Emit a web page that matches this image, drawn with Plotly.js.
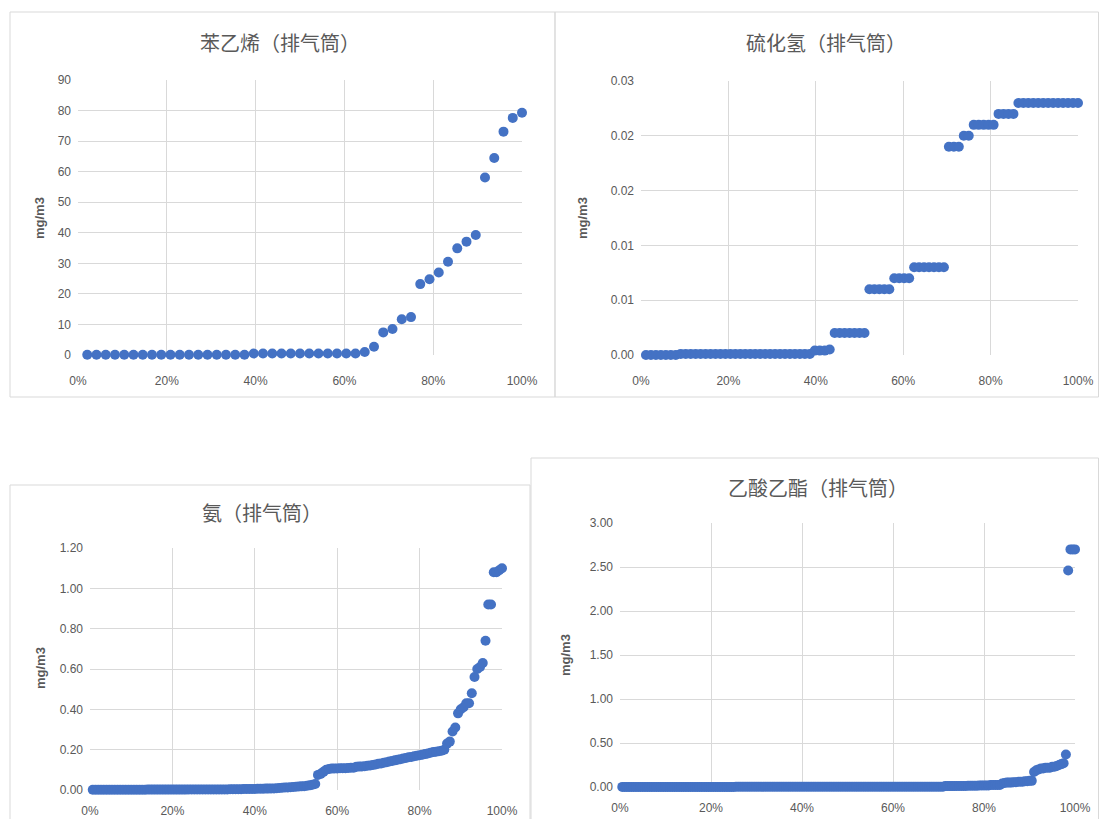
<!DOCTYPE html>
<html>
<head>
<meta charset="utf-8">
<script src="https://cdn.plot.ly/plotly-3.0.1.min.js"></script>
<style>html,body{margin:0;padding:0;background:#fff;}#chart{width:1099px;height:819px;}</style>
</head>
<body>
<div id="chart"></div>
<script>
// ---------- DATA ----------
var titles = ["苯乙烯（排气筒）", "硫化氢（排气筒）", "氨（排气筒）", "乙酸乙酯（排气筒）"];
var yUnit = "mg/m3";
var xTickVals = [0, 0.2, 0.4, 0.6, 0.8, 1.0];
var xTickText = ["0%", "20%", "40%", "60%", "80%", "100%"];

// Styrene (sorted values, 48 samples)
var styrene = [
  0.1,0.1,0.1,0.1,0.1,0.1,0.1,0.1,0.1,0.1,0.1,0.1,0.1,0.1,0.1,0.1,0.1,0.1,
  0.5,0.5,0.5,0.5,0.5,0.5,0.5,0.5,0.5,0.5,0.5,0.5,
  1.0,2.7,7.4,8.5,11.7,12.4,23.2,24.8,27.0,30.5,34.9,37.1,39.3,58.1,64.5,73.1,77.6,79.3
];
var styreneTicks = [0,10,20,30,40,50,60,70,80,90];

// Hydrogen sulfide (sorted values, 88 samples)
var h2s = [
  0,0,0,0,0,0,0,
  0.0001,0.0001,0.0001,0.0001,0.0001,0.0001,0.0001,0.0001,0.0001,0.0001,
  0.0001,0.0001,0.0001,0.0001,0.0001,0.0001,0.0001,0.0001,0.0001,0.0001,
  0.0001,0.0001,0.0001,0.0001,0.0001,0.0001,0.0001,
  0.0004,0.0004,0.0004,0.0005,
  0.002,0.002,0.002,0.002,0.002,0.002,0.002,
  0.006,0.006,0.006,0.006,0.006,
  0.007,0.007,0.007,0.007,
  0.008,0.008,0.008,0.008,0.008,0.008,0.008,
  0.019,0.019,0.019,
  0.020,0.020,
  0.021,0.021,0.021,0.021,0.021,
  0.022,0.022,0.022,0.022,
  0.023,0.023,0.023,0.023,0.023,0.023,0.023,0.023,0.023,0.023,0.023,0.023,0.023
];
var h2sTickVals = [0, 0.005, 0.010, 0.015, 0.020, 0.025];
var h2sTickText = ["0.00", "0.01", "0.01", "0.02", "0.02", "0.03"];

// Ammonia (sorted values, 150 samples)
var ammonia = [
  0.001,0.001,0.001,0.001,0.001,0.001,0.001,0.001,0.001,0.001,
  0.001,0.001,0.001,0.001,0.001,0.001,0.001,0.001,0.001,0.001,
  0.002,0.002,0.002,0.002,0.002,0.002,0.002,0.002,0.002,0.002,
  0.002,0.002,0.002,0.002,0.002,
  0.003,0.003,0.003,0.003,0.003,0.003,0.003,0.003,0.003,0.003,0.003,0.003,0.003,
  0.003,0.003,0.004,0.004,0.004,0.004,0.004,0.005,0.005,0.005,0.005,0.005,0.006,0.006,0.006,
  0.007,0.007,0.008,0.008,0.009,0.010,0.011,
  0.012,0.013,0.014,0.015,0.016,0.017,0.018,
  0.019,0.021,0.023,0.026,0.030,
  0.075,0.080,0.090,
  0.100,0.104,0.106,0.107,0.107,0.108,0.108,0.108,0.109,0.110,0.110,
  0.115,0.116,0.117,0.118,0.120,0.122,0.124,0.127,
  0.130,0.132,0.135,0.138,0.141,0.144,
  0.147,0.150,0.153,0.156,0.159,0.162,0.164,
  0.167,0.170,0.172,0.175,0.178,0.181,
  0.185,0.188,0.190,0.192,0.195,0.200,
  0.23,0.24,0.29,0.31,0.38,0.40,0.41,0.43,0.43,0.48,0.56,0.60,0.61,0.63,0.74,0.92,0.92,1.08,1.08,1.09,1.10
];
var ammoniaTicks = [0,0.2,0.4,0.6,0.8,1.0,1.2];

// Ethyl acetate (sorted values, 200 samples)
var ethylAcetate = [
  0.001,0.001,0.001,0.001,0.001,0.001,0.001,0.001,0.001,0.001,
  0.001,0.001,0.001,0.001,0.001,0.001,0.001,0.001,0.001,0.001,
  0.001,0.001,0.001,0.001,0.001,0.001,0.001,0.001,0.001,0.001,
  0.001,0.001,0.001,0.001,0.001,0.001,0.001,0.001,0.001,0.001,
  0.001,0.001,0.001,0.001,0.001,0.001,0.001,0.001,0.001,0.001,
  0.002,0.002,0.002,0.002,0.002,0.002,0.002,0.002,0.002,0.002,
  0.002,0.002,0.002,0.002,0.002,0.002,0.002,0.002,0.002,0.002,
  0.002,0.002,0.002,0.002,0.002,0.002,0.002,0.002,0.002,0.002,
  0.002,0.002,0.002,0.002,0.002,0.002,0.002,0.002,0.002,0.002,
  0.003,0.003,0.003,0.003,0.003,0.003,0.003,0.003,0.003,0.003,
  0.003,0.003,0.003,0.003,0.003,0.003,0.003,0.003,0.003,0.003,
  0.003,0.003,0.003,0.003,0.003,0.003,0.003,0.003,0.003,0.003,
  0.004,0.004,0.004,0.004,0.004,0.004,0.004,0.004,0.004,0.004,0.004,
  0.004,0.004,0.004,0.004,0.004,0.004,0.004,0.004,0.004,0.004,0.004,
  0.010,0.010,0.010,0.010,0.010,0.012,0.012,0.012,0.012,0.012,
  0.015,0.015,0.015,0.015,0.015,0.018,0.018,0.018,0.018,0.018,
  0.022,0.022,0.022,0.022,0.022,
  0.040,0.045,0.050,0.050,0.050,0.055,0.055,0.060,0.060,0.060,0.065,0.065,0.070,0.070,
  0.17,0.19,0.20,0.21,0.21,0.22,0.22,0.22,0.23,0.23,0.24,0.25,0.26,0.27,
  0.37,2.46,2.70,2.70,2.70
];
var ethylTicks = [0,0.5,1.0,1.5,2.0,2.5,3.0];

// ---------- LAYOUT HELPERS ----------
var W = 1099, H = 819;
function px(x){ return x / W; }
function py(y){ return 1 - y / H; }
function cumFrac(arr){ var n = arr.length; return arr.map(function(_, i){ return (i + 1) / n; }); }

var blue = "#4472C4";
var grid = "#d9d9d9";
var txt = "#595959";
var tickFont = {family: "Liberation Sans, Arial, sans-serif", size: 12, color: txt};

function trace(vals, k){
  return {
    type: "scatter", mode: "markers",
    x: cumFrac(vals), y: vals,
    xaxis: "x" + (k === 1 ? "" : k), yaxis: "y" + (k === 1 ? "" : k),
    marker: {color: blue, size: 10},
    cliponaxis: false, hoverinfo: "x+y", showlegend: false
  };
}

function xax(l, r, anchor, standoff){
  return {domain: [px(l), px(r)], range: [0, 1], tickvals: xTickVals, ticktext: xTickText,
    showgrid: true, gridcolor: grid, gridwidth: 1, zeroline: false, showline: false,
    ticks: "", tickfont: tickFont, ticklabelstandoff: standoff, anchor: anchor, fixedrange: true};
}
function yax(t, b, range, vals, text, anchor){
  var a = {domain: [py(b), py(t)], range: range, tickvals: vals,
    showgrid: true, gridcolor: grid, gridwidth: 1, zeroline: false, showline: false,
    ticks: "", tickfont: tickFont, ticklabelstandoff: 6, anchor: anchor, fixedrange: true};
  if (text) a.ticktext = text;
  return a;
}

var data = [trace(styrene, 1), trace(h2s, 2), trace(ammonia, 3), trace(ethylAcetate, 4)];

var ammoniaText = ammoniaTicks.map(function(v){ return v.toFixed(2); });
var ethylText = ethylTicks.map(function(v){ return v.toFixed(2); });

var layout = {
  width: W, height: H,
  margin: {l: 0, r: 0, t: 0, b: 0},
  paper_bgcolor: "#ffffff", plot_bgcolor: "#ffffff",
  showlegend: false,
  xaxis:  xax(78, 522, "y", 17),
  yaxis:  yax(80, 355, [0, 90], styreneTicks, null, "x"),
  xaxis2: xax(641, 1078, "y2", 17),
  yaxis2: yax(81, 355, [0, 0.025], h2sTickVals, h2sTickText, "x2"),
  xaxis3: xax(90, 502, "y3", 12),
  yaxis3: yax(548, 790, [0, 1.2], ammoniaTicks, ammoniaText, "x3"),
  xaxis4: xax(620, 1075, "y4", 12),
  yaxis4: yax(523, 787, [0, 3], ethylTicks, ethylText, "x4"),
  shapes: [
    {type: "rect", xref: "paper", yref: "paper", x0: px(10), x1: px(555), y0: py(397), y1: py(12), line: {color: grid, width: 1}},
    {type: "rect", xref: "paper", yref: "paper", x0: px(555), x1: px(1098.5), y0: py(397), y1: py(12), line: {color: grid, width: 1}},
    {type: "rect", xref: "paper", yref: "paper", x0: px(10), x1: px(530), y0: py(830), y1: py(485), line: {color: grid, width: 1}},
    {type: "rect", xref: "paper", yref: "paper", x0: px(531), x1: px(1098.5), y0: py(830), y1: py(458), line: {color: grid, width: 1}}
  ],
  annotations: []
};

var titlePos = [[280, 42], [826, 42], [262, 512], [818, 487]];
var unitPos = [[40, 218], [583, 218], [40, 668], [565, 655]];
for (var k = 0; k < 4; k++){
  layout.annotations.push({text: titles[k], xref: "paper", yref: "paper",
    x: px(titlePos[k][0]), y: py(titlePos[k][1]), xanchor: "center", yanchor: "middle",
    showarrow: false, font: {family: "Noto Sans CJK SC, sans-serif", size: 20, color: txt}});
  layout.annotations.push({text: yUnit, xref: "paper", yref: "paper",
    x: px(unitPos[k][0]), y: py(unitPos[k][1]), xanchor: "center", yanchor: "middle",
    textangle: -90, showarrow: false,
    font: {family: "Liberation Sans, Arial, sans-serif", size: 13, color: txt, weight: "bold"}});
}

Plotly.newPlot("chart", data, layout, {staticPlot: true, displayModeBar: false});
</script>
</body>
</html>
